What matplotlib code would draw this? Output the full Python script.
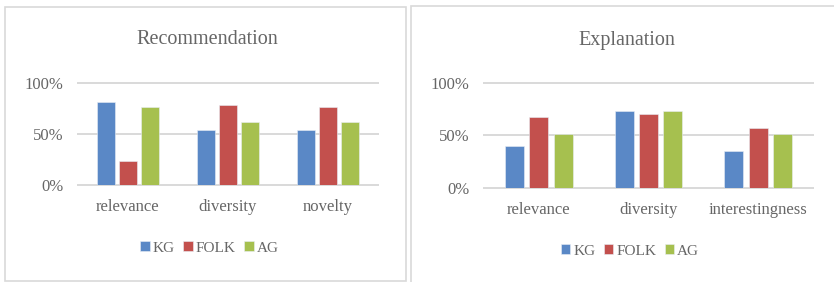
import numpy as np
import matplotlib
matplotlib.use("Agg")
import matplotlib.pyplot as plt
from matplotlib.patches import Rectangle

plt.rcParams['font.family'] = ['Liberation Serif', 'DejaVu Serif']

series = ["KG", "FOLK", "AG"]
colors = ["#5A88C6", "#C3504D", "#A6C04F"]

rec_cats = ["relevance", "diversity", "novelty"]
rec_kg = [0.81, 0.54, 0.54]
rec_folk = [0.24, 0.78, 0.76]
rec_ag = [0.76, 0.62, 0.62]

exp_cats = ["relevance", "diversity", "interestingness"]
exp_kg = [0.40, 0.73, 0.35]
exp_folk = [0.67, 0.70, 0.57]
exp_ag = [0.51, 0.73, 0.51]

W, H = 834, 282
fig = plt.figure(figsize=(W / 100, H / 100), dpi=100)
txt = "#666666"
grid = "#D9D9D9"

def px_axes(x0, y0, x1, y1):
    return fig.add_axes([x0 / W, 1 - y1 / H, (x1 - x0) / W, (y1 - y0) / H])

def panel(ax, title, title_xy, cats, vals, legend_xy, xpad):
    x = np.arange(len(cats))
    bw = 0.175
    step = 0.222
    handles = []
    for i, (v, c, name) in enumerate(zip(vals, colors, series)):
        b = ax.bar(x + (i - 1) * step, v, bw, color=c, label=name, zorder=3,
                   edgecolor="#E8EEF5", linewidth=0.4)
        handles.append(b)
    ax.set_xlim(-0.5, len(cats) - 0.5)
    ax.set_ylim(0, 1)
    ax.set_yticks([0, 0.5, 1.0])
    ax.set_yticklabels(["0%", "50%", "100%"])
    ax.set_xticks(x)
    ax.set_xticklabels(cats)
    ax.tick_params(length=0, colors=txt, labelsize=12)
    ax.tick_params(axis="y", pad=10.5)
    ax.tick_params(axis="x", pad=xpad)
    for s in ax.spines.values():
        s.set_visible(False)
    ax.yaxis.grid(True, color=grid, linewidth=1.4, zorder=0)
    for gl in ax.get_ygridlines():
        gl.set_clip_on(False)
    fig.text(title_xy[0] / W, 1 - title_xy[1] / H, title, color=txt, fontsize=14.5,
             ha="center", va="center")
    leg = fig.legend(handles, series, loc="center",
                     bbox_to_anchor=(legend_xy[0] / W, 1 - legend_xy[1] / H),
                     bbox_transform=fig.transFigure, ncol=3, frameon=False,
                     fontsize=11, handlelength=0.62, handleheight=0.62, handletextpad=0.2,
                     columnspacing=0.55)
    for t in leg.get_texts():
        t.set_color(txt)

ax1 = px_axes(78, 83, 378, 185)
panel(ax1, "Recommendation", (207, 40), rec_cats, [rec_kg, rec_folk, rec_ag], (209.5, 248), 10)

ax2 = px_axes(484, 82.7, 813, 187.7)
panel(ax2, "Explanation", (627, 40), exp_cats, [exp_kg, exp_folk, exp_ag], (630, 251), 10)

# chart area borders
fig.patches.append(Rectangle((5 / W, 1 - 281 / H), 401 / W, 274 / H, transform=fig.transFigure,
                             fill=False, edgecolor=grid, linewidth=1.2))
fig.patches.append(Rectangle((411 / W, -0.05), 430 / W, 1 - 6 / H + 0.05, transform=fig.transFigure,
                             fill=False, edgecolor=grid, linewidth=1.2))

fig.savefig("out.png", dpi=100)
